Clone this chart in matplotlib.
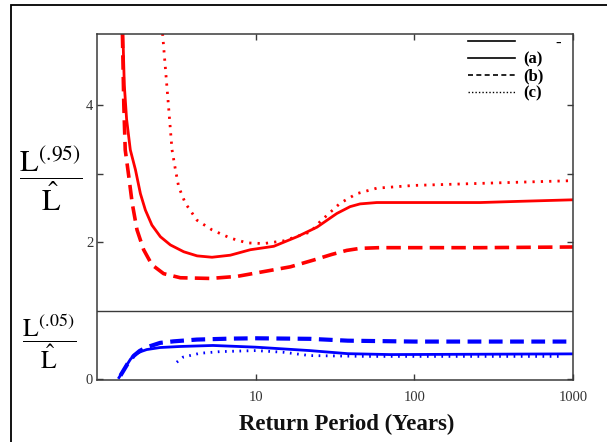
import matplotlib
matplotlib.use("Agg")
import matplotlib.pyplot as plt
from matplotlib.lines import Line2D
from matplotlib.patches import Rectangle

plt.rcParams['font.family'] = ['Liberation Serif', 'DejaVu Serif']
plt.rcParams['mathtext.fontset'] = 'stix'

# ---- data ----
up_a_x = [1.45, 1.48, 1.53, 1.615, 1.74, 1.87, 2.01, 2.21, 2.50, 2.89, 3.51, 4.26, 5.29, 6.90, 9.23,
          12.97, 18.2, 24.3, 32.4, 39.3, 45.4, 57.9, 98.6, 260, 500, 1000]
up_a_y = [5.05, 4.3, 3.8, 3.35, 3.06, 2.71, 2.47, 2.25, 2.08, 1.96, 1.86, 1.80, 1.78, 1.81, 1.89,
          1.94, 2.08, 2.22, 2.42, 2.52, 2.56, 2.58, 2.58, 2.58, 2.60, 2.62]

up_b_x = [1.44, 1.47, 1.50, 1.58, 1.66, 1.78, 1.96, 2.21, 2.62, 3.34, 5.16, 7.61, 11.2, 16.5,
          23.2, 30.0, 37.4, 45.4, 60, 260, 1000]
up_b_y = [5.05, 4.0, 3.35, 2.96, 2.57, 2.18, 1.89, 1.67, 1.54, 1.48, 1.47, 1.50, 1.57, 1.64,
          1.74, 1.82, 1.88, 1.91, 1.92, 1.92, 1.93]

up_c_x = [2.58, 2.81, 2.96, 3.11, 3.26, 3.59, 4.26, 5.29, 6.90, 8.8, 11.2, 15.0, 22.1, 25.4,
          34.0, 43.3, 57.9, 98.6, 260, 500, 1000]
up_c_y = [5.05, 4.0, 3.35, 3.06, 2.81, 2.57, 2.32, 2.18, 2.06, 1.99, 1.98, 2.02, 2.15, 2.30,
          2.57, 2.71, 2.79, 2.83, 2.86, 2.88, 2.90]

lo_a_x = [1.37, 1.45, 1.53, 1.62, 1.73, 1.88, 2.05, 2.49, 3.32, 5.36, 10, 21.9, 38, 70, 1000]
lo_a_y = [0.02, 0.11, 0.20, 0.29, 0.36, 0.40, 0.43, 0.46, 0.475, 0.49, 0.465, 0.415, 0.37, 0.357, 0.367]

lo_b_x = [1.40, 1.55, 1.70, 1.85, 2.05, 2.49, 3.02, 4.24, 6.87, 10, 21.9, 38, 100, 1000]
lo_b_y = [0.05, 0.22, 0.34, 0.41, 0.464, 0.528, 0.55, 0.576, 0.59, 0.595, 0.587, 0.56, 0.547, 0.547]

lo_c_x = [3.17, 3.48, 4.44, 5.95, 10, 15, 21.9, 50, 863]
lo_c_y = [0.245, 0.32, 0.376, 0.40, 0.415, 0.39, 0.342, 0.33, 0.33]

x_ticks = [10, 100, 1000]
x_tick_labels = ['10', '100', '1000']
y_ticks = [0, 2, 3, 4]
y_tick_labels = ['0', '2', '', '4']
legend_labels = ['(a)', '(b)', '(c)']

RED = '#ff0000'
BLUE = '#0000ff'
SPINE = '#3a3a3a'

fig = plt.figure(figsize=(6.07, 4.42), dpi=100)
fig.patch.set_facecolor('white')

# outer frame (left and top edges visible)
fig.patches.append(Rectangle((10.5/607, -0.2), 1.5, 1.2 - 4.7/442,
                             transform=fig.transFigure, fill=False,
                             edgecolor='black', lw=1.3))

ax = fig.add_axes([97.3/607, (442-380)/442, (573-97.3)/607, (380-34.3)/442])
ax.set_xscale('log')
ax.set_xlim(1, 1000)
ax.set_ylim(-0.015, 5.04)

ax.plot(up_a_x, up_a_y, color=RED, lw=2.0, ls='-')
ax.plot(up_b_x, up_b_y, color=RED, lw=2.6, ls=(0, (4, 2)))
ax.plot(up_c_x, up_c_y, color=RED, lw=2.0, ls=(0, (0.8, 2.2)))

ax.plot(lo_a_x, lo_a_y, color=BLUE, lw=2.0, ls='-')
ax.plot(lo_b_x, lo_b_y, color=BLUE, lw=3.0, ls=(0, (3.3, 1.8)))
ax.plot(lo_c_x, lo_c_y, color=BLUE, lw=2.0, ls=(0, (0.6, 2.0)))

ax.axhline(1.0, color=SPINE, lw=1.0)

for s in ax.spines.values():
    s.set_color(SPINE)
    s.set_linewidth(1.1)

ax.set_xticks(x_ticks)
ax.set_xticklabels(x_tick_labels)
ax.xaxis.set_minor_locator(matplotlib.ticker.NullLocator())
ax.set_yticks(y_ticks)
ax.set_yticklabels(y_tick_labels)
ax.tick_params(axis='both', which='major', direction='in', length=4, width=1,
               color=SPINE, top=True, right=True, labelsize=10.5,
               labelcolor='#333333')
ax.tick_params(axis='x', pad=8)
ax.tick_params(axis='y', pad=3)

# legend
handles = [Line2D([], [], color='black', lw=1.2, ls='-'),
           Line2D([], [], color='black', lw=1.2, ls='-'),
           Line2D([], [], color='black', lw=1.2, ls=(0, (3, 2))),
           Line2D([], [], color='black', lw=1.0, ls=(0, (1, 1.5)))]
labels = ['        -'] + legend_labels
leg = ax.legend(handles, labels, loc='upper left',
                bbox_to_anchor=((468-97.3)/475.7, (380-35)/345.7),
                frameon=False, borderpad=0, borderaxespad=0,
                handlelength=2.8, handletextpad=0.5, labelspacing=0.05,
                prop={'family': 'Liberation Serif', 'weight': 'bold', 'size': 12})

# y labels as fractions
fig.text(51/607, 1 - 179/442, r'$\dfrac{\mathrm{L}^{(.\!95)}}{\hat{\mathrm{L}}}$',
         fontsize=22, ha='center', va='center')
fig.text(49/607, 1 - 342/442, r'$\dfrac{\mathrm{L}^{(.\!05)}}{\hat{\mathrm{L}}}$',
         fontsize=18.5, ha='center', va='center')

fig.text(346.5/607, 1 - 424/442, 'Return Period (Years)', fontsize=16.5,
         fontweight='bold', ha='center', va='center', color='#111111')

fig.savefig('out.png', dpi=100)
